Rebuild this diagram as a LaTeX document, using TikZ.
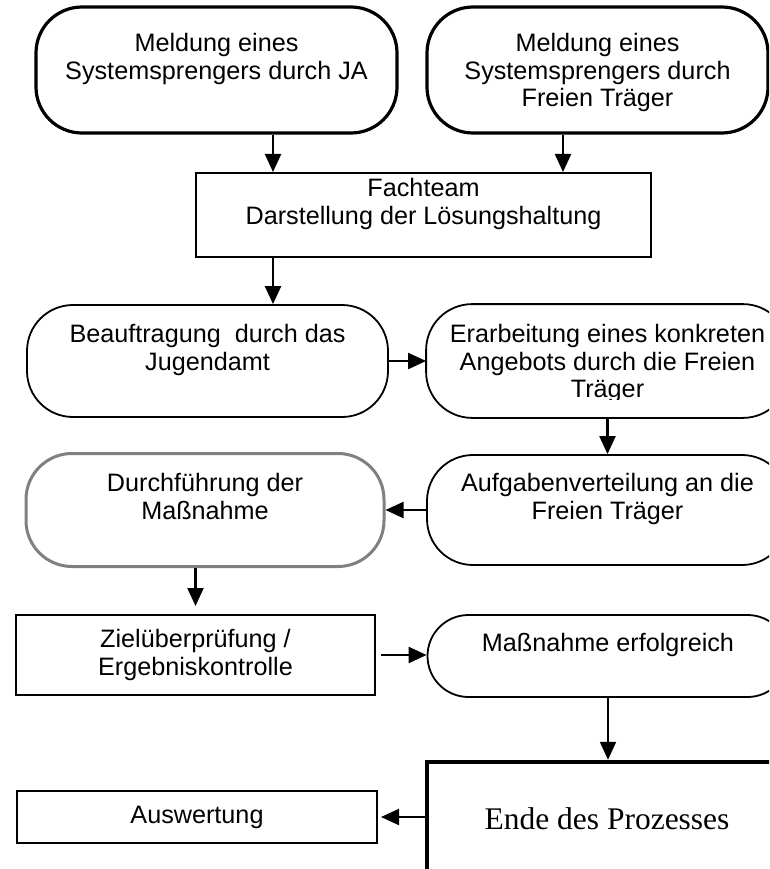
\documentclass[tikz,border=0pt]{standalone}
\usepackage{fontspec}
\setmainfont{Liberation Sans}
\newfontfamily\endfont{Liberation Serif}
\usetikzlibrary{arrows.meta}

\begin{document}
\begin{tikzpicture}[x=1pt,y=-1pt,>={Triangle[length=18pt,width=16pt]},
  every node/.style={align=center,inner sep=0pt,font=\fontsize{25.2}{27.5}\selectfont},
  term/.style={draw,rounded corners=46pt,line width=1.8pt,minimum width=361pt},
  termthick/.style={term,line width=3.2pt},
  proc/.style={draw,line width=2pt},
  arr/.style={->,line width=2.2pt}]
\useasboundingbox (0,0) rectangle (769,869);
\clip (0,0) rectangle (769,869);

% Meldungen
\node[termthick,minimum height=126pt] (mja) at (216.5,70) {Meldung eines\\Systemsprengers durch JA\\~};
\node[termthick,minimum width=341pt,minimum height=126pt] (mft) at (597.5,70) {Meldung eines\\Systemsprengers durch\\\smash{Freien Träger}};
\node[proc,minimum width=455pt,minimum height=84pt] (fach) at (423.5,215) {Fachteam\\Darstellung der Lösungshaltung\\~};

% Auftrag und Angebot
\node[term,minimum height=112pt] (beauf) at (207.5,361) {Beauftragung~ durch das\\Jugendamt\\~};
\begin{scope}
  \clip (420,290) rectangle (790,399.5);
  \node[term,draw=none,minimum height=112pt] (erarb) at (607.5,361) {Erarbeitung eines konkreten\\Angebots durch die Freien\\\smash{Träger}};
\end{scope}
\draw[line width=1.8pt,rounded corners=46pt] (erarb.north west) rectangle (erarb.south east);
\node[term,minimum height=110pt] (aufg) at (607.5,510) {Aufgabenverteilung an die\\Freien Träger\\~};
\node[term,draw=black!50,line width=3pt,minimum width=358pt,minimum height=113pt] (durch) at (205,510) {Durchführung der\\Maßnahme\\~};

% Kontrolle und Ende
\node[proc,minimum width=359pt,minimum height=80pt] (ziel) at (195.5,655) {Zielüberprüfung /\\Ergebniskontrolle};
\node[term,rounded corners=41pt,minimum height=82pt] (mass) at (608,656) {Maßnahme erfolgreich\\~};
\node[draw,line width=4.5pt,minimum width=360pt,minimum height=114pt,
  font=\endfont\fontsize{31.5}{36}\selectfont] (ende) at (607,819) {Ende des Prozesses};
\node[proc,minimum width=360pt,minimum height=52pt] (ausw) at (197,817) {Auswertung};

\coordinate (c1) at (273,0);
\coordinate (c2) at (563,0);
\draw[arr] (mja.south -| c1) -- (fach.north -| c1);
\draw[arr] (mft.south -| c2) -- (fach.north -| c2);
\draw[arr] (fach.south -| c1) -- (beauf.north -| c1);
\draw[arr] (beauf.east) -- (erarb.west);
\draw[arr] (erarb.south) -- (aufg.north);
\draw[arr] (aufg.west) -- (durch.east);
\draw[arr,shorten >=8pt] (durch.south -| ziel.north) -- (ziel.north);
\draw[arr,shorten <=5pt] (ziel.east) -- (ziel.east -| mass.west);
\draw[arr] (mass.south) -- (mass.south |- ende.north);
\draw[arr,shorten >=3pt] (ausw -| ende.west) -- (ausw.east);
\end{tikzpicture}
\end{document}
